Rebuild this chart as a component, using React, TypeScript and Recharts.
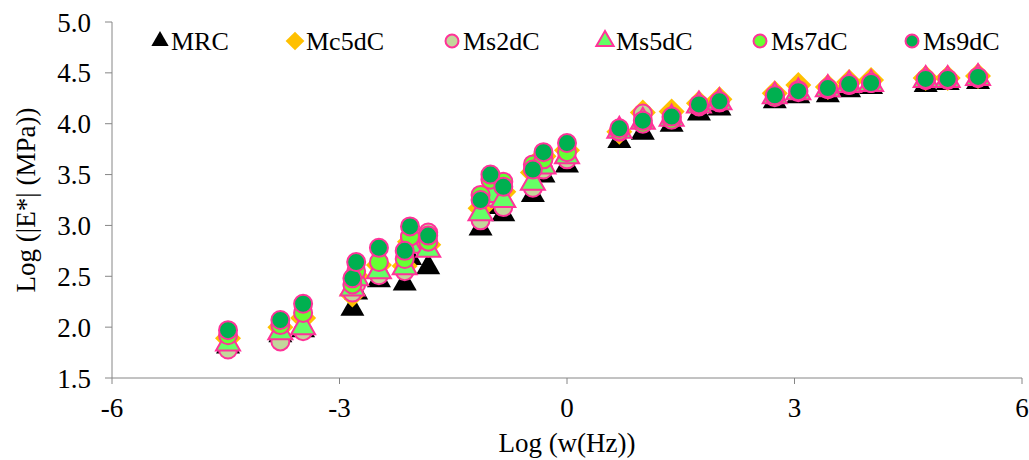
import React from 'react';
import { ScatterChart, Scatter, XAxis, YAxis } from 'recharts';

const FONT = '"Liberation Serif", "Times New Roman", serif';
const PINK = '#FF3399';
const AXIS = '#868686';

// log(w) positions of the master-curve points
const logW = [
  -4.47, -3.78, -3.48, -2.83, -2.78, -2.48, -2.14, -2.07, -1.83, -1.14, -1.01, -0.84, -0.45, -0.31,
  0.0, 0.69, 1.0, 1.38, 1.74, 2.01, 2.74, 3.05, 3.44, 3.72, 4.01, 4.73, 5.02, 5.42,
];

const mrc = [
  1.81, 1.92, 1.97, 2.18, 2.34, 2.46, 2.43, 2.68, 2.59, 2.97, 3.18, 3.11, 3.3, 3.49,
  3.59, 3.83, 3.91, 3.99, 4.1, 4.15, 4.22, 4.27, 4.28, 4.33, 4.36, 4.38, 4.4, 4.41,
];
const mc5dC = [
  1.89, 2.0, 2.09, 2.32, 2.5, 2.61, 2.6, 2.84, 2.81, 3.17, 3.35, 3.33, 3.52, 3.68,
  3.74, 3.92, 4.11, 4.12, 4.2, 4.24, 4.3, 4.38, 4.36, 4.41, 4.43, 4.45, 4.45, 4.47,
];
const ms2dC = [
  1.78, 1.86, 1.96, 2.34, 2.42, 2.51, 2.55, 2.88, 2.93, 3.05, 3.28, 3.18, 3.37, 3.55,
  3.65, 3.92, 4.1, 4.06, 4.18, 4.21, 4.27, 4.33, 4.34, 4.38, 4.4, 4.43, 4.44, 4.45,
];
const ms5dC = [
  1.84, 1.95, 2.0, 2.38, 2.48, 2.55, 2.59, 2.8, 2.76, 3.12, 3.3, 3.25, 3.42, 3.58,
  3.68, 3.93, 4.02, 4.05, 4.18, 4.21, 4.27, 4.31, 4.34, 4.38, 4.39, 4.43, 4.43, 4.45,
];
const ms7dC = [
  1.92, 2.02, 2.14, 2.42, 2.55, 2.64, 2.67, 2.89, 2.84, 3.3, 3.45, 3.43, 3.6, 3.65,
  3.72, 3.93, 4.0, 4.04, 4.17, 4.21, 4.26, 4.31, 4.34, 4.38, 4.4, 4.43, 4.43, 4.45,
];
const ms9dC = [
  1.97, 2.07, 2.23, 2.48, 2.64, 2.78, 2.75, 2.99, 2.9, 3.25, 3.5, 3.38, 3.55, 3.72,
  3.81, 3.955, 4.03, 4.07, 4.19, 4.22, 4.28, 4.32, 4.35, 4.39, 4.4, 4.44, 4.44, 4.46,
];

const xTicks = [-6, -3, 0, 3, 6];
const yTicks = [1.5, 2.0, 2.5, 3.0, 3.5, 4.0, 4.5, 5.0];

const rows = (ys: number[]) => logW.map((x, i) => ({ x, y: ys[i] }));

type Kind = 'tri' | 'diamond' | 'circle';

function marker(kind: Kind, cx: number, cy: number, fill: string, stroke: string, s = 1) {
  if (kind === 'tri') {
    const w = 24 * s;
    const h = 21 * s;
    return (
      <polygon
        points={`${cx},${cy - (h * 2) / 3} ${cx + w / 2},${cy + h / 3} ${cx - w / 2},${cy + h / 3}`}
        fill={fill}
        stroke={stroke}
        strokeWidth={stroke === 'none' ? 0 : 2}
      />
    );
  }
  if (kind === 'diamond') {
    const r = 13 * s;
    return <polygon points={`${cx},${cy - r} ${cx + r},${cy} ${cx},${cy + r} ${cx - r},${cy}`} fill={fill} />;
  }
  return <circle cx={cx} cy={cy} r={9 * s} fill={fill} stroke={stroke} strokeWidth={2} />;
}

const series = [
  { name: 'MRC', data: mrc, kind: 'tri' as Kind, fill: '#000000', stroke: 'none' },
  { name: 'Mc5dC', data: mc5dC, kind: 'diamond' as Kind, fill: '#FFC000', stroke: 'none' },
  { name: 'Ms2dC', data: ms2dC, kind: 'circle' as Kind, fill: '#C3D69B', stroke: PINK },
  { name: 'Ms5dC', data: ms5dC, kind: 'tri' as Kind, fill: '#66FF66', stroke: PINK },
  { name: 'Ms7dC', data: ms7dC, kind: 'circle' as Kind, fill: '#66FF33', stroke: PINK },
  { name: 'Ms9dC', data: ms9dC, kind: 'circle' as Kind, fill: '#00B050', stroke: PINK },
];

const legendX = [160, 295, 452, 605, 760, 912];

function LegendBox() {
  return (
    <svg width={1029} height={70} style={{ position: 'absolute', left: 0, top: 5 }}>
      {series.map((s, i) => (
        <g key={s.name}>
          {marker(s.kind, legendX[i], 36, s.fill, s.stroke, 0.72)}
          <text
            x={legendX[i] + 11}
            y={36}
            dy="0.35em"
            fontFamily={FONT}
            fontSize={26}
            fill="#000"
          >
            {s.name}
          </text>
        </g>
      ))}
    </svg>
  );
}

export default function App() {
  const tick = { fontFamily: FONT, fontSize: 27, fill: '#000' };
  return (
    <div style={{ position: 'absolute', left: 0, top: 0, width: 1029, height: 460, background: '#fff' }}>
      <ScatterChart width={1029} height={460} margin={{ top: 22, right: 7, bottom: 0, left: 0 }}>
        <XAxis
          dataKey="x"
          type="number"
          domain={[-6, 6]}
          ticks={xTicks}
          interval={0}
          stroke={AXIS}
          tickSize={6}
          tickMargin={14}
          height={82}
          tick={tick}
          label={{ value: 'Log (w(Hz))', position: 'insideBottom', offset: 8, style: tick }}
        />
        <YAxis
          dataKey="y"
          type="number"
          domain={[1.5, 5]}
          ticks={yTicks}
          interval={0}
          stroke={AXIS}
          tickSize={7}
          tickMargin={14}
          width={112}
          tick={tick}
          tickFormatter={(v: number) => v.toFixed(1)}
          label={{ value: 'Log (|E*| (MPa))', angle: -90, position: 'center', dx: -31, style: tick }}
        />
        {series.map((s) => (
          <Scatter
            key={s.name}
            name={s.name}
            data={rows(s.data)}
            isAnimationActive={false}
            shape={(p: any) => marker(s.kind, p.cx, p.cy, s.fill, s.stroke)}
          />
        ))}
      </ScatterChart>
      <LegendBox />
    </div>
  );
}
